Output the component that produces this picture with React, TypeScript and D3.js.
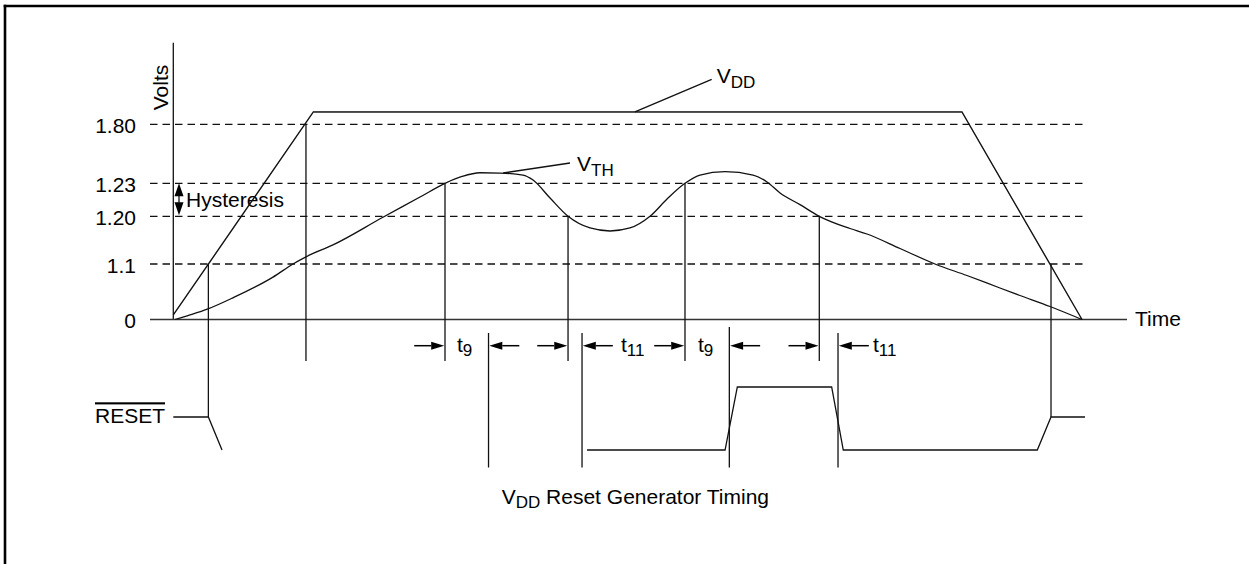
import React from 'react';
import * as d3 from 'd3';

// ---- data ----
const voltLevels = [0, 1.1, 1.2, 1.23, 1.8];
const voltTickLabels = ['0', '1.1', '1.20', '1.23', '1.80'];

const vddTime = [0, 15.41, 86.79, 100];
const vddVolts = [0.09, 1.92, 1.92, 0];

const vthTime = [0.19, 1.84, 3.82, 6.57, 10.97, 13.17, 14.6, 17.57, 23.07, 27.15, 29.9, 31.77, 33.75, 35.95, 38.48, 39.59, 41.46, 43.44, 45.86, 48.06, 50.26, 52.46, 54.44, 56.31, 57.96, 60.72, 63.8, 65.34, 66.77, 68.97, 71.09, 74.47, 76.34, 79.97, 83.82, 87.34, 90.97, 93.17, 96.48, 100];
const vthVolts = [0, 0.09, 0.21, 0.43, 0.84, 1.1, 1.115, 1.14, 1.198, 1.2175, 1.23, 1.296, 1.332, 1.329, 1.31, 1.262, 1.2166, 1.2, 1.1755, 1.1692, 1.1755, 1.2, 1.2166, 1.23, 1.31, 1.342, 1.31, 1.2426, 1.2212, 1.2106, 1.2, 1.1744, 1.1629, 1.1325, 1.1, 0.872, 0.624, 0.476, 0.258, 0];

const dropTimes = [3.86, 14.6, 29.9, 43.44, 56.31, 71.09, 96.59];
const dropLevels = [1.1, 1.8, 1.23, 1.2, 1.23, 1.2, 1.1];
const dropToReset = [true, false, false, false, false, false, true];

const markerTimes = [34.69, 44.98, 61.19, 73.15];

const arrowTimes = [29.9, 34.69, 43.44, 44.98, 56.31, 61.19, 71.09, 73.15];
const arrowDirs = ['right', 'left', 'right', 'left', 'right', 'left', 'right', 'left'];

const intervalLabelTimes = [31.22, 49.27, 57.74, 77.0];
const intervalLabelSubs = ['9', '11', '9', '11'];

const resetTimesA = [0, 3.86, 5.36];
const resetLevelsA = ['mid', 'mid', 'low'];
const resetTimesB = [45.53, 60.72, 62.07, 72.45, 73.73, 95.08, 96.59, 100.33];
const resetLevelsB = ['low', 'low', 'high', 'high', 'low', 'low', 'mid', 'mid'];

const FONT = '"Liberation Sans", Arial, Helvetica, sans-serif';
const FS = 21;
const SUB = 17;

export default function App() {
  const W = 1249, H = 564;
  const x = d3.scaleLinear().domain([0, 100]).range([173.3, 1082]);
  const y = d3.scaleLinear().domain(voltLevels).range([319.5, 264, 216.3, 183.3, 124.3]);
  const ry = d3.scaleOrdinal<string, number>().domain(['low', 'mid', 'high']).range([450, 417, 387]);

  const line = d3.line<[number, number]>().x(d => x(d[0])).y(d => y(d[1]));
  const smooth = d3.line<[number, number]>().x(d => x(d[0])).y(d => y(d[1])).curve(d3.curveMonotoneX);
  const rline = d3.line<[number, string]>().x(d => x(d[0])).y(d => ry(d[1]));

  const vddPath = line(vddTime.map((t, i) => [t, vddVolts[i]] as [number, number]))!;
  const vthPath = smooth(vthTime.map((t, i) => [t, vthVolts[i]] as [number, number]))!;
  const resetA = rline(resetTimesA.map((t, i) => [t, resetLevelsA[i]] as [number, string]))!;
  const resetB = rline(resetTimesB.map((t, i) => [t, resetLevelsB[i]] as [number, string]))!;

  const stroke = '#111';
  const sw = 1.3;
  const arrowY = 345.7;
  const headL = 13, headW = 4, arrowLen = 30;
  const y0 = y(0);

  return (
    <svg width={W} height={H} style={{ position: 'fixed', left: 0, top: 0, background: '#fff' }} fontFamily={FONT}>
      {/* frame */}
      <line x1={5} y1={4.8} x2={5} y2={H} stroke="#000" strokeWidth={2.6} />
      <line x1={3.7} y1={6} x2={W} y2={6} stroke="#000" strokeWidth={2.6} />

      {/* dashed level lines */}
      {voltLevels.slice(1).map((v, i) => (
        <line key={'d' + i} x1={150} x2={1086} y1={y(v)} y2={y(v)} stroke={stroke} strokeWidth={sw} strokeDasharray="7.5,5" />
      ))}

      {/* tick labels */}
      {voltLevels.map((v, i) => (
        <text key={'t' + i} x={136} y={y(v) + 8.5} fontSize={FS} textAnchor="end" fill="#000">{voltTickLabels[i]}</text>
      ))}

      {/* axes */}
      <line x1={x(0)} x2={x(0)} y1={42.7} y2={y0} stroke={stroke} strokeWidth={sw} />
      <line x1={150} x2={1127} y1={y0} y2={y0} stroke="#333" strokeWidth={1.5} />
      <text transform={`translate(168,87.5) rotate(-90)`} fontSize={FS} textAnchor="middle">Volts</text>
      <text x={1135} y={326} fontSize={FS}>Time</text>

      {/* hysteresis */}
      <path d={`M179,${y(1.23)} L183.5,${y(1.23) + 13} L174.5,${y(1.23) + 13} Z`} fill="#000" />
      <path d={`M179,${y(1.2) - 1} L183.5,${y(1.2) - 14} L174.5,${y(1.2) - 14} Z`} fill="#000" />
      <line x1={179} x2={179} y1={y(1.23) + 12} y2={y(1.2) - 13} stroke="#000" strokeWidth={1.2} />
      <text x={186} y={206.7} fontSize={FS}>Hysteresis</text>

      {/* VDD and VTH curves */}
      <path d={vddPath} fill="none" stroke={stroke} strokeWidth={1.4} />
      <path d={`M${x(15.41)},${y(1.92)} L${x(86.79)},${y(1.92)}`} fill="none" stroke="#444" strokeWidth={1.8} />
      <path d={vthPath} fill="none" stroke={stroke} strokeWidth={sw} />

      {/* VDD label */}
      <line x1={x(50.8)} y1={y(1.92)} x2={711.7} y2={79.3} stroke={stroke} strokeWidth={sw} />
      <text x={716.7} y={83} fontSize={FS}>V<tspan fontSize={SUB} dy={5}>DD</tspan></text>
      {/* VTH label */}
      <line x1={x(36.3)} y1={173} x2={570} y2={163} stroke={stroke} strokeWidth={sw} />
      <text x={577} y={171} fontSize={FS}>V<tspan fontSize={SUB} dy={5}>TH</tspan></text>

      {/* drop lines */}
      {dropTimes.map((t, i) => (
        <line key={'dl' + i} x1={x(t)} x2={x(t)} y1={y(dropLevels[i])} y2={dropToReset[i] ? ry('mid') : 361} stroke={stroke} strokeWidth={sw} />
      ))}
      {markerTimes.map((t, i) => (
        <line key={'m' + i} x1={x(t)} x2={x(t)} y1={i === 2 ? 327 : 333} y2={467.5} stroke={stroke} strokeWidth={sw} />
      ))}

      {/* arrows */}
      {arrowTimes.map((t, i) => {
        const tip = x(t) + (arrowDirs[i] === 'left' ? 0.8 : -0.8);
        const s = arrowDirs[i] === 'right' ? -1 : 1;
        const tail = tip + s * arrowLen;
        const base = tip + s * headL;
        return (
          <g key={'a' + i}>
            <line x1={tail} x2={base} y1={arrowY} y2={arrowY} stroke="#000" strokeWidth={1.5} />
            <path d={`M${tip},${arrowY} L${base},${arrowY - headW} L${base},${arrowY + headW} Z`} fill="#000" />
          </g>
        );
      })}
      {intervalLabelTimes.map((t, i) => (
        <text key={'il' + i} x={x(t)} y={352} fontSize={FS}>t<tspan fontSize={SUB} dy={4}>{intervalLabelSubs[i]}</tspan></text>
      ))}

      {/* RESET */}
      <text x={165} y={423.3} fontSize={FS} textAnchor="end" style={{ textDecoration: 'overline' }}>RESET</text>
      <path d={resetA} fill="none" stroke={stroke} strokeWidth={sw} />
      <path d={resetB} fill="none" stroke={stroke} strokeWidth={sw} />

      {/* caption */}
      <text x={501.7} y={504} fontSize={FS}>V<tspan fontSize={SUB} dy={4}>DD</tspan><tspan dy={-4}> Reset Generator Timing</tspan></text>
    </svg>
  );
}
